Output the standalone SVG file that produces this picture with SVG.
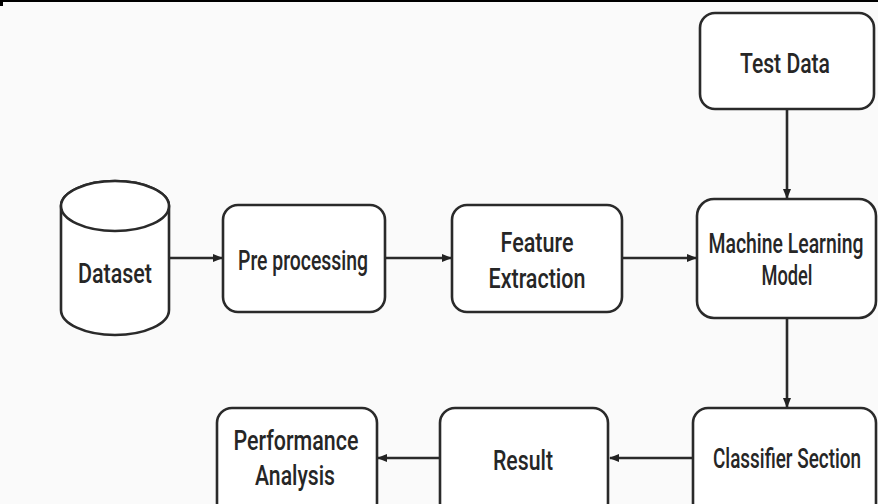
<svg xmlns="http://www.w3.org/2000/svg" width="878" height="504" viewBox="0 0 878 504">
<defs>
<marker id="ah" viewBox="0 0 10 10" refX="9" refY="5" markerWidth="4" markerHeight="4" orient="auto" markerUnits="strokeWidth">
<path d="M0,1 L10,5 L0,9 z" fill="#222"/>
</marker>
<style>
.box{fill:#fff;stroke:#2a2a2a;stroke-width:2.6}
.t{font-family:Roboto,"Liberation Sans",sans-serif;font-size:27px;font-weight:500;fill:#262626;text-anchor:middle}
.c{stroke:#2a2a2a;stroke-width:2.6;fill:none;marker-end:url(#ah)}
</style>
</defs>
<rect width="878" height="504" fill="#fafafa"/>
<rect x="0" y="0" width="878" height="2" fill="#000"/>
<rect x="0" y="0" width="3" height="6" fill="#000"/>
<g id="connectors">
<line class="c" x1="169" y1="258" x2="222" y2="258"/>
<line class="c" x1="386" y1="258" x2="451" y2="258"/>
<line class="c" x1="623" y1="258" x2="696" y2="258"/>
<line class="c" x1="787" y1="109" x2="787" y2="198"/>
<line class="c" x1="787" y1="319" x2="787" y2="407"/>
<line class="c" x1="692" y1="458" x2="610" y2="458"/>
<line class="c" x1="439" y1="458" x2="378" y2="458"/>
</g>
<g id="dataset">
<path class="box" d="M61,206 L61,310 A54,25 0 0 0 169,310 L169,206 A54,25 0 0 0 61,206 z"/>
<ellipse class="box" cx="115" cy="206" rx="54" ry="25"/>
<text class="t" x="115" y="283" textLength="74" lengthAdjust="spacingAndGlyphs">Dataset</text>
</g>
<g id="preprocessing">
<rect class="box" x="223" y="205" width="162" height="107" rx="15"/>
<text class="t" x="303" y="270" textLength="130" lengthAdjust="spacingAndGlyphs">Pre processing</text>
</g>
<g id="feature">
<rect class="box" x="452" y="205" width="170" height="107" rx="15"/>
<text class="t" x="537" y="252" textLength="73" lengthAdjust="spacingAndGlyphs">Feature</text>
<text class="t" x="537" y="288" textLength="97" lengthAdjust="spacingAndGlyphs">Extraction</text>
</g>
<g id="testdata">
<rect class="box" x="700" y="13" width="174" height="96" rx="15"/>
<text class="t" x="785" y="73" textLength="90" lengthAdjust="spacingAndGlyphs">Test Data</text>
</g>
<g id="mlmodel">
<rect class="box" x="697" y="199" width="179" height="119" rx="17"/>
<text class="t" x="786" y="253" textLength="155" lengthAdjust="spacingAndGlyphs">Machine Learning</text>
<text class="t" x="787" y="285" textLength="51" lengthAdjust="spacingAndGlyphs">Model</text>
</g>
<g id="classifier">
<rect class="box" x="693" y="408" width="183" height="110" rx="15"/>
<text class="t" x="787" y="468" textLength="148" lengthAdjust="spacingAndGlyphs">Classifier Section</text>
</g>
<g id="result">
<rect class="box" x="440" y="408" width="168" height="110" rx="15"/>
<text class="t" x="523" y="470" textLength="60" lengthAdjust="spacingAndGlyphs">Result</text>
</g>
<g id="performance">
<rect class="box" x="217" y="408" width="160" height="110" rx="15"/>
<text class="t" x="296" y="450" textLength="125" lengthAdjust="spacingAndGlyphs">Performance</text>
<text class="t" x="295" y="485" textLength="80" lengthAdjust="spacingAndGlyphs">Analysis</text>
</g>
</svg>
